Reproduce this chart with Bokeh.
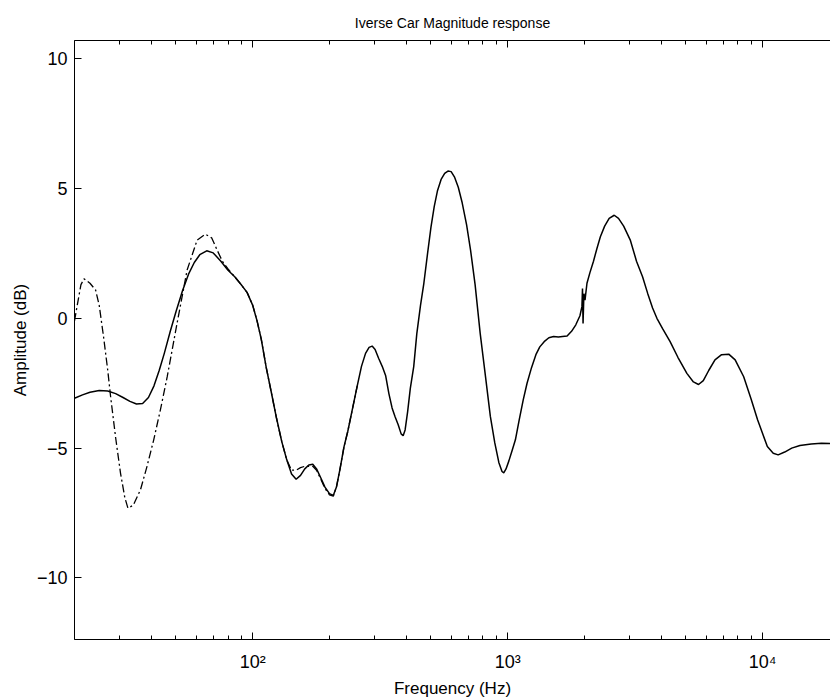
from bokeh.plotting import figure
from bokeh.models import LogAxis, FixedTicker, Range1d, CustomJSTickFormatter
from bokeh.embed import file_html
from bokeh.resources import INLINE

# ---- data ----
freq_solid = [20, 21.5, 23, 25, 27, 29, 31, 33, 35, 37, 39, 41, 43, 45, 47.5, 50, 53, 56, 59, 62,
              66, 70, 75, 80, 85, 90, 95, 100, 104, 108, 113, 118, 124, 130, 136, 142, 148, 154,
              160, 166, 172, 178, 185, 192, 200, 207, 213, 220, 228, 236, 246, 257, 267, 277, 286,
              294, 302, 312, 322, 332, 342, 352, 362, 372, 382, 389, 396, 405, 415, 428, 440, 455,
              469, 485, 500, 515, 530, 548, 566, 583, 600, 618, 640, 663, 690, 715, 745, 780, 815,
              855, 890, 923, 950, 965, 985, 1010, 1040, 1072, 1110, 1150, 1191, 1240, 1290, 1336,
              1390, 1450, 1514, 1580, 1640, 1710, 1780, 1850, 1920, 1955, 1965, 1975, 1990, 2010,
              2046, 2100, 2170, 2240, 2309, 2400, 2500, 2617, 2720, 2850, 3029, 3200, 3380, 3540,
              3700, 3848, 4050, 4335, 4650, 5043, 5350, 5604, 5850, 6150, 6500, 6900, 7359, 7800,
              8425, 9000, 9550, 10000, 10430, 11000, 11500, 12200, 13000, 14000, 15500, 17000, 18500]
db_solid = [-3.08, -2.95, -2.85, -2.78, -2.8, -2.9, -3.05, -3.2, -3.3, -3.28, -3.05, -2.6, -2.0,
            -1.35, -0.5, 0.25, 1.05, 1.7, 2.15, 2.45, 2.6, 2.52, 2.2, 1.85, 1.6, 1.3, 1.0, 0.5,
            -0.1, -0.8, -1.9, -2.8, -3.85, -4.75, -5.45, -6.0, -6.2, -6.05, -5.8, -5.65, -5.62,
            -5.8, -6.15, -6.5, -6.75, -6.82, -6.5, -5.8, -4.95, -4.35, -3.5, -2.6, -1.85, -1.35,
            -1.12, -1.07, -1.2, -1.55, -1.85, -2.2, -2.9, -3.45, -3.8, -4.1, -4.45, -4.52, -4.3,
            -3.6, -2.7, -1.86, -0.6, 0.5, 1.35, 2.5, 3.5, 4.3, 4.9, 5.35, 5.58, 5.67, 5.65, 5.45,
            5.05, 4.45, 3.6, 2.63, 1.3, -0.58, -2.1, -3.78, -4.8, -5.55, -5.9, -5.95, -5.8, -5.5,
            -5.1, -4.68, -3.9, -3.15, -2.5, -1.9, -1.4, -1.1, -0.9, -0.75, -0.7, -0.72, -0.7,
            -0.68, -0.5, -0.25, 0.1, 0.45, 1.15, -0.2, 0.95, 0.7, 1.35, 1.75, 2.2, 2.7, 3.14, 3.55,
            3.85, 3.97, 3.85, 3.55, 3.0, 2.2, 1.6, 0.96, 0.4, 0.0, -0.4, -0.9, -1.5, -2.12, -2.45,
            -2.55, -2.4, -2.0, -1.6, -1.4, -1.38, -1.6, -2.25, -3.1, -3.91, -4.45, -4.94, -5.2,
            -5.26, -5.15, -5.0, -4.9, -4.84, -4.81, -4.82]

freq_dash = [20, 20.5, 21.2, 21.8, 23, 24.2, 25, 26, 27, 27.7, 29, 30.3, 31.5, 32.4, 34, 36.3,
             38.5, 40.9, 43.5, 46.2, 50.5, 55.3, 60.5, 65.2, 69, 72.5, 76, 80, 85, 90, 95, 100,
             104, 108, 113, 118, 124, 130, 136, 142, 148, 154, 160, 166, 172, 178, 185, 192, 200,
             207, 213, 220, 228, 236, 246, 257]
db_dash = [-0.1, 0.5, 1.3, 1.52, 1.35, 1.09, 0.5, -0.71, -2.0, -3.0, -4.6, -5.96, -6.9, -7.31,
           -7.2, -6.6, -5.7, -4.68, -3.5, -2.25, -0.19, 1.86, 3.01, 3.24, 3.1, 2.63, 2.2, 1.9,
           1.6, 1.3, 1.0, 0.5, -0.1, -0.8, -1.9, -2.8, -3.85, -4.75, -5.45, -5.85, -5.85, -5.75,
           -5.7, -5.7, -5.7, -5.85, -6.2, -6.55, -6.8, -6.85, -6.5, -5.8, -4.95, -4.35, -3.5, -2.6]

x_major = [100, 1000, 10000]
y_major = [-10, -5, 0, 5, 10]

title_text = "Iverse Car Magnitude response"
x_label = "Frequency (Hz)"
y_label = "Amplitude (dB)"

FONT = "Liberation Sans"

x_minor = [m * 10 ** k for k in (1, 2, 3) for m in range(2, 10) if 20 <= m * 10 ** k <= 18450]

p = figure(width=830, height=700, x_axis_type="log",
           x_range=Range1d(20, 18450), y_range=Range1d(-12.37, 10.7),
           output_backend="svg", toolbar_location=None,
           min_border_left=74, min_border_right=0, min_border_top=40, min_border_bottom=60)

p.title.text = title_text
p.title.align = "center"
p.title.text_font = FONT
p.title.text_font_size = "14px"
p.title.text_font_style = "normal"
p.title.text_color = "black"
p.title.vertical_align = "top"
p.title.standoff = 15

p.xgrid.visible = False
p.ygrid.visible = False
p.outline_line_color = None
p.background_fill_color = "white"
p.border_fill_color = "white"

def style_axis(ax):
    ax.axis_line_color = "black"
    ax.axis_line_width = 1
    ax.major_tick_line_color = "black"
    ax.minor_tick_line_color = "black"
    ax.major_tick_in = 7
    ax.major_tick_out = 0
    ax.minor_tick_in = 4
    ax.minor_tick_out = 0
    ax.major_label_text_font = FONT
    ax.major_label_text_font_size = "18px"
    ax.major_label_text_color = "black"
    ax.axis_label_text_font = FONT
    ax.axis_label_text_font_size = "17px"
    ax.axis_label_text_font_style = "normal"
    ax.axis_label_text_color = "black"

xa = p.xaxis[0]
xa.ticker = FixedTicker(ticks=x_major, minor_ticks=x_minor)
xa.formatter = CustomJSTickFormatter(code="""
    const e = Math.round(Math.log10(tick));
    const sup = {2: "\\u00b2", 3: "\\u00b3", 4: "\\u2074"};
    return "10" + sup[e];
""")
xa.axis_label = x_label
style_axis(xa)
xa.major_label_standoff = 12
xa.axis_label_standoff = 4

ya = p.yaxis[0]
ya.ticker = FixedTicker(ticks=y_major, minor_ticks=[])
ya.formatter = CustomJSTickFormatter(code="""
    return tick < 0 ? "\\u2212" + Math.abs(tick) : "" + tick;
""")
ya.axis_label = y_label
style_axis(ya)
ya.minor_tick_in = 0
ya.major_label_standoff = 7
ya.axis_label_standoff = 4

top = LogAxis(ticker=FixedTicker(ticks=x_major, minor_ticks=x_minor))
style_axis(top)
top.major_label_text_font_size = "1px"
top.major_label_text_color = None
top.major_label_standoff = 0
p.add_layout(top, "above")

p.line(freq_dash, db_dash, line_color="black", line_width=1.3, line_dash="8 3 2 3")
p.line(freq_solid, db_solid, line_color="black", line_width=1.5)

open("out.html", "w").write(file_html(p, INLINE))
